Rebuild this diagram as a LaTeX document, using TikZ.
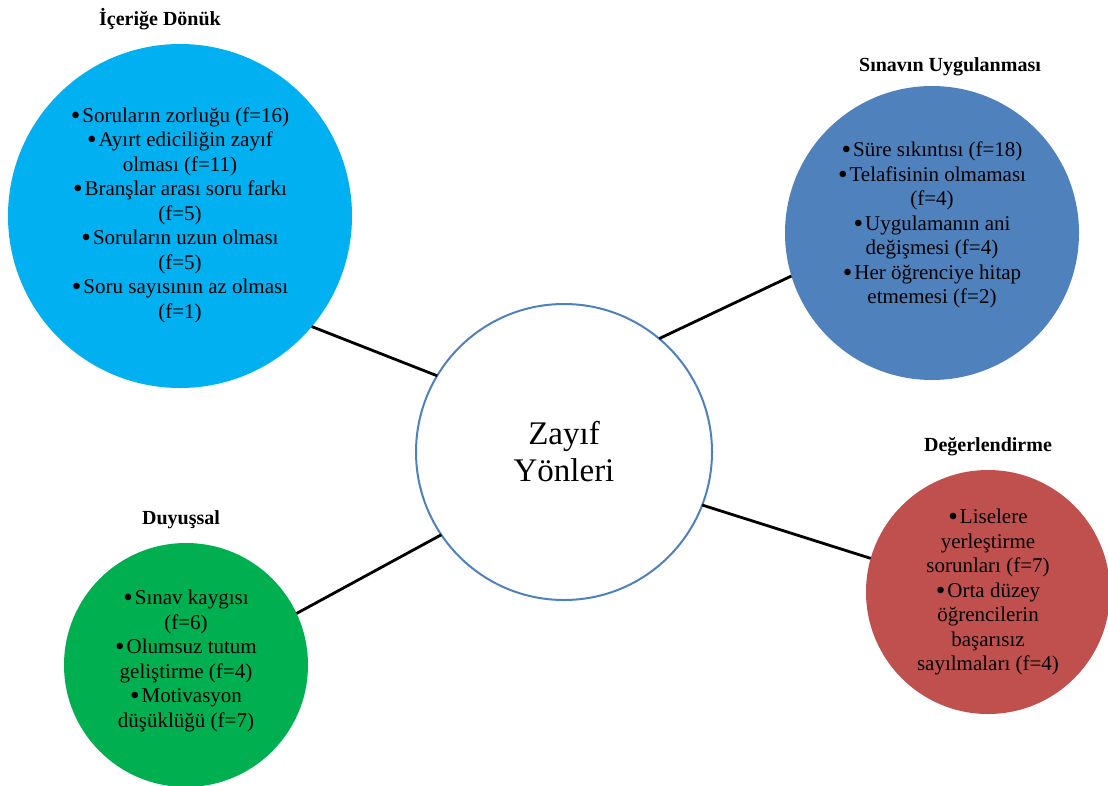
\documentclass[tikz,border=0pt]{standalone}
\usepackage{fontspec}
\setmainfont{Liberation Serif}
\definecolor{cblue}{HTML}{00B0F0}
\definecolor{cdblue}{HTML}{4F81BD}
\definecolor{cred}{HTML}{C0504D}
\definecolor{cgreen}{HTML}{00B050}
\newcommand{\bl}{\raisebox{-2.2pt}{\scalebox{1.3}{•}}\hspace{2pt}}
\begin{document}
\begin{tikzpicture}[x=1pt,y=-1pt,
  bubble/.style={circle,inner sep=0pt,outer sep=0pt,draw=none},
  body/.style={align=center,inner sep=0pt,font=\fontsize{21}{24.5}\selectfont},
  title/.style={font=\fontsize{20}{22}\selectfont\bfseries,inner sep=0pt},
  link/.style={line width=2.8pt,black}]
\useasboundingbox (0,0) rectangle (1108,785);
\node[bubble,fill=cblue,minimum size=344pt] (tl) at (180,216) {};
\node[bubble,fill=cdblue,minimum size=294pt] (tr) at (932,233) {};
\node[bubble,fill=cred,minimum size=244pt] (br) at (988,592) {};
\node[bubble,fill=cgreen,minimum size=244pt] (bl) at (186,665) {};
\node[bubble,draw=cdblue,line width=2pt,fill=white,minimum size=296pt] (c) at (564,452) {};
\node[font=\fontsize{33}{37}\selectfont,align=center,inner sep=0pt] (ct) at (564,452) {Zayıf\\Yönleri};

\node[title] (tlt) at (160,19) {İçeriğe Dönük};
\node[title] (trt) at (950,67) {Sınavın Uygulanması};
\node[title] (brt) at (988,447) {Değerlendirme};
\node[title] (blt) at (181,520) {Duyuşsal};

\node[body] (tlb) at (180,215) {\bl Soruların zorluğu (f=16)\\\bl Ayırt ediciliğin zayıf\\olması (f=11)\\\bl Branşlar arası soru farkı\\(f=5)\\\bl Soruların uzun olması\\(f=5)\\\bl Soru sayısının az olması\\(f=1)};
\node[body] (trb) at (932,225) {\bl Süre sıkıntısı (f=18)\\\bl Telafisinin olmaması\\(f=4)\\\bl Uygulamanın ani\\değişmesi (f=4)\\\bl Her öğrenciye hitap\\etmemesi (f=2)};
\node[body] (brb) at (988,592) {\bl Liselere\\yerleştirme\\sorunları (f=7)\\\bl Orta düzey\\öğrencilerin\\başarısız\\sayılmaları (f=4)};
\node[body] (blb) at (186,661) {\bl Sınav kaygısı\\(f=6)\\\bl Olumsuz tutum\\geliştirme (f=4)\\\bl Motivasyon\\düşüklüğü (f=7)};

\draw[link] (tl.-40) -- (c.149.7);
\draw[link] (c.50.4) -- (tr.197);
\draw[link] (c.-21) -- (br.164);
\draw[link] (c.214.6) -- (bl.25.7);
\end{tikzpicture}
\end{document}
